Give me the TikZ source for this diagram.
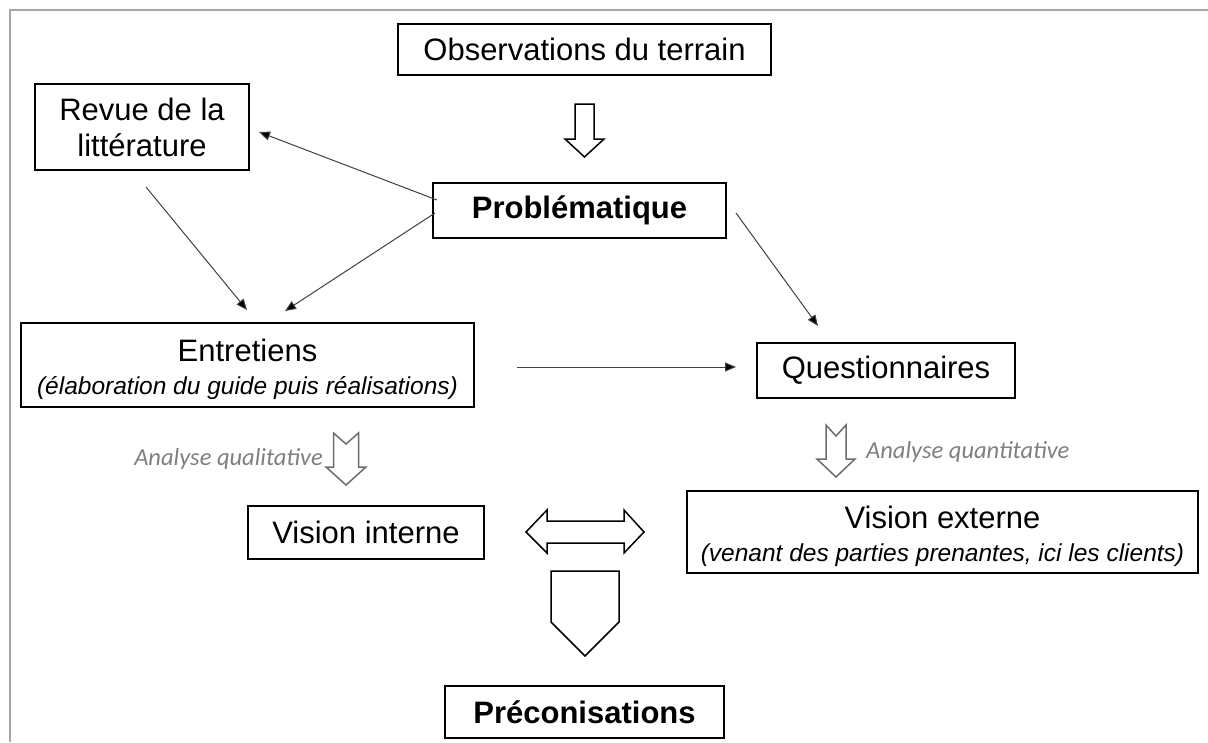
\documentclass[tikz,border=0pt]{standalone}
\usepackage{fontspec}
\setmainfont{Liberation Sans}
\newfontfamily\calib{Carlito}
\usetikzlibrary{arrows.meta,calc}
\definecolor{framegray}{HTML}{A6A6A6}
\definecolor{labgray}{HTML}{7F7F7F}
\definecolor{linegray}{HTML}{404040}
\begin{document}
\begin{tikzpicture}[x=1pt,y=-1pt,
 box/.style={draw=black,line width=1.6pt,inner sep=0pt,align=center,font=\fontsize{31}{36}\selectfont},
 conn/.style={draw=linegray,line width=1pt,-{Triangle[length=11pt,width=9pt,fill=black]}},
 blockarrow/.style={draw=black,line width=1.5pt,fill=white,line join=miter},
 grayarrow/.style={draw=labgray!85!black,line width=1.5pt,fill=white,line join=miter},
 lab/.style={text=labgray,inner sep=0pt,font=\calib\itshape\fontsize{24.5}{28}\selectfont}]
\useasboundingbox (0,0) rectangle (1208,742);
% frame
\draw[framegray,line width=1.5pt] (10,742) -- (10,10) -- (1208,10);
% boxes
\node[box,minimum width=373pt,minimum height=51pt] (obs) at (584.5,49.5) {Observations du terrain};
\node[box,minimum width=214pt,minimum height=86pt] (revue) at (142,127) {Revue de la\\littérature};
\node[box,minimum width=293pt,minimum height=55pt,font=\bfseries\fontsize{31}{36}\selectfont] (prob) at (579.5,210.5) {Problématique};
\node[box,minimum width=453pt,minimum height=84pt] (entr) at (247.5,365) {\rule{0pt}{32pt}Entretiens\\[-3pt]{\fontsize{24.5}{29}\selectfont\itshape (élaboration du guide puis réalisations)}};
\node[box,minimum width=258pt,minimum height=55pt] (quest) at (886,370.5) {Questionnaires};
\node[box,minimum width=236pt,minimum height=53pt] (vint) at (366,532.5) {Vision interne};
\node[box,minimum width=511pt,minimum height=82pt] (vext) at (942.5,532) {\rule{0pt}{32pt}Vision externe\\[-3pt]{\fontsize{24.5}{29}\selectfont\itshape (venant des parties prenantes, ici les clients)}};
\node[box,minimum width=279pt,minimum height=52pt,font=\bfseries\fontsize{31}{36}\selectfont] (prec) at (584.5,712) {Préconisations};
% labels
\node[lab,anchor=east] (ql) at (323,459) {Analyse qualitative};
\node[lab,anchor=west] (qt) at (866,452) {Analyse quantitative};
% connector end points
\coordinate (p1) at (437,200);
\coordinate (r1) at (259,132);
\coordinate (p2) at (435,213);
\coordinate (e1) at (285,311);
\coordinate (r2) at (146,187);
\coordinate (e2) at (247,310);
\coordinate (p3) at (736,213);
\coordinate (q1) at (818,326);
\coordinate (e3) at (517,367);
\coordinate (q2) at (736,367);
\draw[conn] (p1) -- (r1);
\draw[conn] (p2) -- (e1);
\draw[conn] (r2) -- (e2);
\draw[conn] (p3) -- (q1);
\draw[conn] (e3) -- (q2);
% block arrows
\draw[blockarrow] (575,104) -- (594,104) -- (594,139) -- (604,139) -- (584.5,157) -- (565,139) -- (575,139) -- cycle;
\draw[grayarrow] (333.5,433) -- (346,444) -- (358.5,433) -- (358.5,467) -- (366,467) -- (346,485) -- (326,467) -- (333.5,467) -- cycle;
\draw[grayarrow] (826,425) -- (836,436) -- (846,425) -- (846,459) -- (855,459) -- (836,477) -- (817,459) -- (826,459) -- cycle;
\draw[blockarrow] (526,532) -- (547,510) -- (547,521) -- (624,521) -- (624,510) -- (644,532) -- (624,553) -- (624,543) -- (547,543) -- (547,553) -- cycle;
\draw[blockarrow] (551,571) -- (619,571) -- (619,622) -- (585,656) -- (551,622) -- cycle;
\end{tikzpicture}
\end{document}
